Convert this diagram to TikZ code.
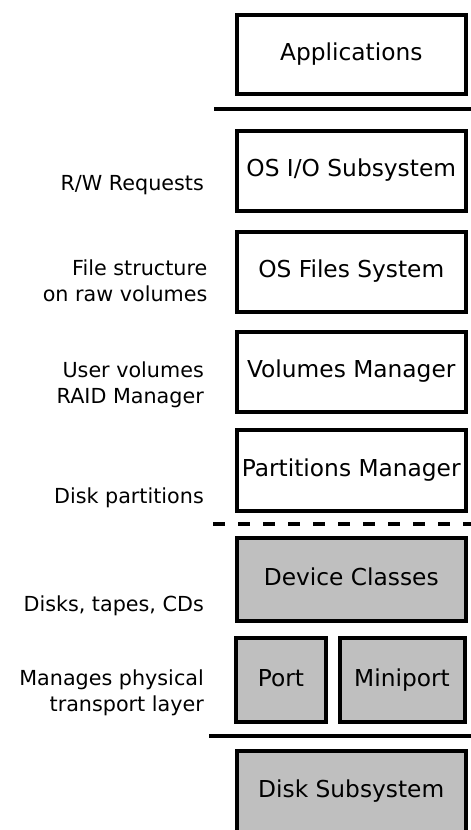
\documentclass[tikz,border=0pt]{standalone}
\usepackage{fontspec}
\setmainfont{DejaVu Sans}
\begin{document}
\begin{tikzpicture}[x=1pt,y=-1pt,
  layerbox/.style={draw=black, line width=4pt, inner sep=0pt, text height=17.7pt, text depth=5.5pt, font=\fontsize{23.3}{28}\selectfont},
  hwbox/.style={layerbox, fill=black!25},
  sidelabel/.style={anchor=east, align=right, inner sep=0pt, font=\fontsize{20.7}{26}\selectfont},
  sepline/.style={line width=3.8pt}
]
\useasboundingbox (0,0) rectangle (471,830);
% software layers
\node[layerbox, minimum width=228.5pt, minimum height=79.5pt] (app) at (351.25,54.25) {Applications};
\node[layerbox, minimum width=228.5pt, minimum height=80pt] (io) at (351.25,170.5) {OS I/O Subsystem};
\node[layerbox, minimum width=228.5pt, minimum height=80pt] (fs) at (351.25,271.6) {OS Files System};
\node[layerbox, minimum width=228.5pt, minimum height=80pt] (vm) at (351.25,371.6) {Volumes Manager};
\node[layerbox, minimum width=228.5pt, minimum height=81pt] (pm) at (351.25,470.1) {Partitions Manager};
% hardware layers
\node[hwbox, minimum width=228.5pt, minimum height=82.7pt] (dc) at (351.25,579.65) {Device Classes};
\node[hwbox, minimum width=90.8pt, minimum height=83.4pt] (port) at (280.9,680) {Port};
\node[hwbox, minimum width=125pt, minimum height=83.4pt] (mini) at (402,680) {Miniport};
\node[hwbox, minimum width=228.5pt, minimum height=85pt, yshift=-1pt] (disk) at (351.25,792.3) {\raisebox{1.5pt}{Disk Subsystem}};
% separators
\coordinate (s1a) at (214,108.7); \coordinate (s1b) at (471,108.7);
\coordinate (s2a) at (213,524); \coordinate (s2b) at (471,524);
\coordinate (s3a) at (209,736); \coordinate (s3b) at (471,736);
\draw[sepline] (s1a) -- (s1b);
\draw[sepline, dash pattern=on 12pt off 13pt] (s2a) -- (s2b);
\draw[sepline] (s3a) -- (s3b);
% side labels
\node[sidelabel] (l1) at (204,185) {R/W Requests};
\node[sidelabel] (l2) at (207.5,280.5) {File structure\\on raw volumes};
\node[sidelabel] (l3) at (204,385) {User volumes\\RAID Manager};
\node[sidelabel] (l4) at (204,497.5) {Disk partitions};
\node[sidelabel] (l5) at (204,605.5) {Disks, tapes, CDs};
\node[sidelabel] (l6) at (204,692.5) {Manages physical\\transport layer};
\end{tikzpicture}
\end{document}
